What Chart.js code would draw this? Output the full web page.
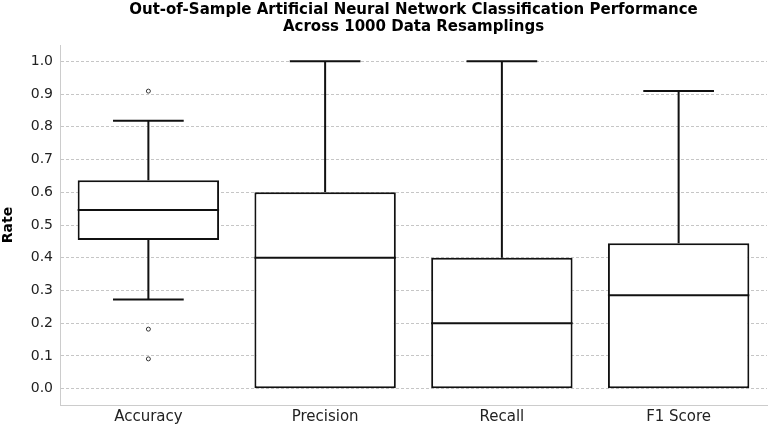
<!DOCTYPE html>
<html lang="en">
<head>
<meta charset="UTF-8">
<title>ANN Classification Performance</title>
<script src="https://cdn.jsdelivr.net/npm/chart.js"></script>
<style>
  html, body { margin: 0; padding: 0; background: #fff; }
  #wrap { width: 769px; height: 427px; }
</style>
</head>
<body>
<div id="wrap"><canvas id="boxChart" width="769" height="427"></canvas></div>
<script>
// box plot statistics
const categories = ['Accuracy', 'Precision', 'Recall', 'F1 Score'];
const q1Values = [0.4545, 0, 0, 0];
const q3Values = [0.6364, 0.6, 0.4, 0.4444];
const medianValues = [0.5455, 0.4, 0.2, 0.2857];
const whiskerLow = [0.2727, 0, 0, 0];
const whiskerHigh = [0.8182, 1.0, 1.0, 0.9091];
const outliers = [[0.9091, 0.1818, 0.0909], [], [], []];
const yTicks = [0, 0.1, 0.2, 0.3, 0.4, 0.5, 0.6, 0.7, 0.8, 0.9, 1.0];

const LINE = '#111111';

// whiskers, medians and outliers on top of the floating bars
const boxExtras = {
    id: 'boxExtras',
    afterDatasetsDraw(chart) {
        const ctx = chart.ctx;
        const x = chart.scales.x;
        const y = chart.scales.y;
        const meta = chart.getDatasetMeta(0);
        ctx.save();
        categories.forEach((c, i) => {
            const bar = meta.data[i];
            const cx = x.getPixelForValue(i);
            const half = bar.width / 2;
            const cap = half / 2;
            ctx.strokeStyle = LINE;
            ctx.lineWidth = 2;
            // median
            const my = y.getPixelForValue(medianValues[i]);
            ctx.beginPath();
            ctx.moveTo(cx - half, my);
            ctx.lineTo(cx + half, my);
            ctx.stroke();
            // upper whisker
            if (whiskerHigh[i] > q3Values[i]) {
                const hy = y.getPixelForValue(whiskerHigh[i]);
                ctx.beginPath();
                ctx.moveTo(cx, y.getPixelForValue(q3Values[i]));
                ctx.lineTo(cx, hy);
                ctx.moveTo(cx - cap, hy);
                ctx.lineTo(cx + cap, hy);
                ctx.stroke();
            }
            // lower whisker
            if (whiskerLow[i] < q1Values[i]) {
                const ly = y.getPixelForValue(whiskerLow[i]);
                ctx.beginPath();
                ctx.moveTo(cx, y.getPixelForValue(q1Values[i]));
                ctx.lineTo(cx, ly);
                ctx.moveTo(cx - cap, ly);
                ctx.lineTo(cx + cap, ly);
                ctx.stroke();
            }
            // outliers
            ctx.lineWidth = 1;
            ctx.strokeStyle = '#333333';
            outliers[i].forEach(v => {
                ctx.beginPath();
                ctx.arc(cx, y.getPixelForValue(v), 2, 0, Math.PI * 2);
                ctx.stroke();
            });
        });
        ctx.restore();
    }
};

new Chart(document.getElementById('boxChart'), {
    type: 'bar',
    data: {
        labels: categories,
        datasets: [{
            data: categories.map((c, i) => [q1Values[i], q3Values[i]]),
            backgroundColor: '#ffffff',
            borderColor: LINE,
            borderWidth: 2,
            borderSkipped: false,
            categoryPercentage: 1.0,
            barPercentage: 0.8
        }]
    },
    options: {
        responsive: false,
        animation: false,
        layout: { padding: { left: 0, right: 2, top: 0, bottom: 0 } },
        plugins: {
            legend: { display: false },
            tooltip: { enabled: false },
            title: {
                display: true,
                fullSize: false,
                text: ['Out-of-Sample Artificial Neural Network Classification Performance', 'Across 1000 Data Resamplings'],
                color: '#000',
                font: { family: 'DejaVu Sans', size: 15, weight: 'bold', lineHeight: 1.1 },
                padding: { top: 2, bottom: 10 }
            }
        },
        scales: {
            x: {
                grid: { display: false, drawTicks: false },
                border: { display: true, color: '#cccccc', width: 1 },
                ticks: { color: '#222', font: { family: 'DejaVu Sans', size: 15 }, padding: 3 },
                afterFit: s => { s.height = 22; }
            },
            y: {
                min: -0.05,
                max: 1.05,
                afterBuildTicks: s => { s.ticks = yTicks.map(v => ({ value: v })); },
                grid: { color: '#b8b8b8', lineWidth: 0.8, drawTicks: false },
                border: { display: true, color: '#cccccc', width: 1, dash: [3, 2] },
                ticks: {
                    color: '#222',
                    font: { family: 'DejaVu Sans', size: 14 },
                    padding: 7,
                    callback: v => v.toFixed(1)
                },
                title: {
                    display: true,
                    text: 'Rate',
                    color: '#000',
                    font: { family: 'DejaVu Sans', size: 14, weight: 'bold' },
                    padding: { top: 0, bottom: 4 }
                },
                afterFit: s => { s.width = 60; }
            }
        }
    },
    plugins: [boxExtras]
});
</script>
</body>
</html>
